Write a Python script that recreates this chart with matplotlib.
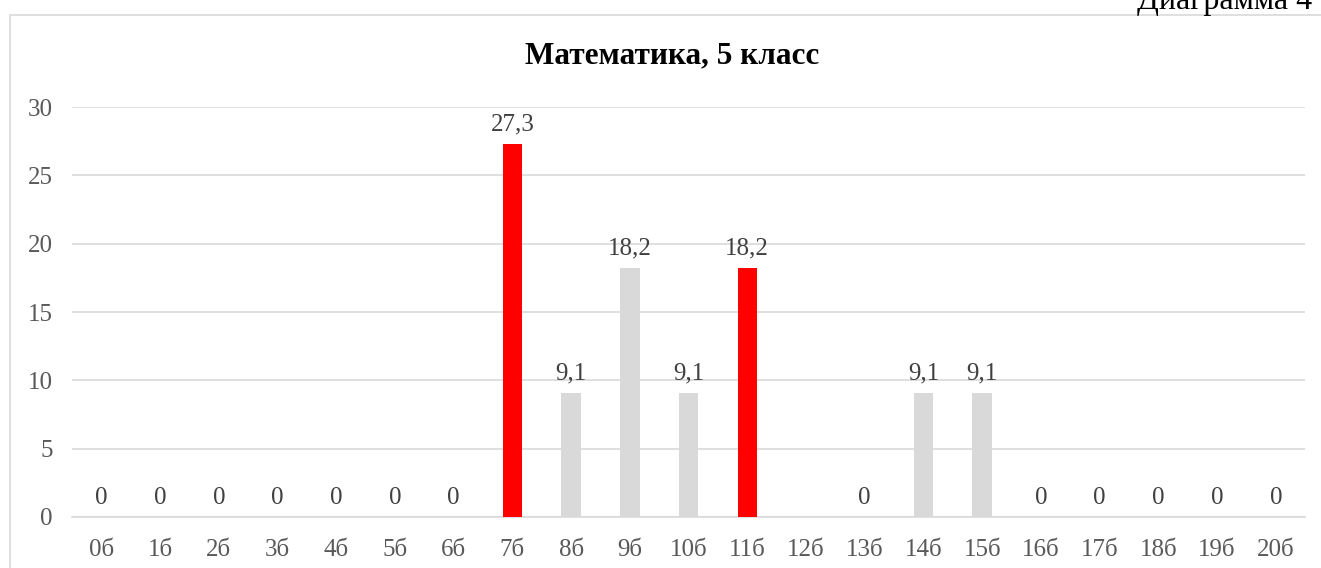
import numpy as np
import matplotlib.pyplot as plt
from matplotlib.patches import Rectangle

plt.rcParams['font.family'] = ['Liberation Serif', 'DejaVu Serif']

# данные
categories = ['0б', '1б', '2б', '3б', '4б', '5б', '6б', '7б', '8б', '9б', '10б',
              '11б', '12б', '13б', '14б', '15б', '16б', '17б', '18б', '19б', '20б']
values = [0, 0, 0, 0, 0, 0, 0, 27.3, 9.1, 18.2, 9.1,
          18.2, np.nan, 0, 9.1, 9.1, 0, 0, 0, 0, 0]
highlight = ['7б', '11б']

colors = ['#ff0000' if c in highlight else '#d9d9d9' for c in categories]

fig = plt.figure(figsize=(13.21, 5.68), dpi=100)
ax = fig.add_axes([0.0545, 0.0898, 0.9335, 0.7218])

x = np.arange(len(categories))
vals = np.nan_to_num(np.array(values, dtype=float))
ax.bar(x, vals, width=0.33, color=colors, zorder=3)

for xi, v in zip(x, values):
    if np.isnan(v):
        continue
    lbl = ('%.1f' % v).replace('.', ',') if v != 0 else '0'
    ax.annotate(lbl, (xi, v), xytext=(0, 6), textcoords='offset points',
                ha='center', va='bottom', fontsize=18, color='#404040')

ax.set_xlim(-0.5, len(categories) - 0.5)
ax.set_ylim(0, 30)
ax.set_yticks(range(0, 31, 5))
ax.set_xticks(x)
ax.set_xticklabels(categories)
ax.tick_params(axis='both', length=0, labelsize=18, labelcolor='#595959')
ax.tick_params(axis='y', pad=14)
ax.tick_params(axis='x', pad=16)
ax.grid(axis='y', color='#d9d9d9', linewidth=1.2, zorder=0)
for s in ['top', 'right', 'left']:
    ax.spines[s].set_visible(False)
ax.spines['bottom'].set_color('#d9d9d9')
ax.spines['bottom'].set_linewidth(1.2)

# заголовок по центру рамки
fig.text(672 / 1321, 1 - 63 / 568, 'Математика, 5 класс', ha='center',
         va='baseline', fontsize=22.5, fontweight='bold', color='black')

# рамка диаграммы
fig.patches.append(Rectangle((10 / 1321, -0.1), 1.2, 1.1 - 15 / 568,
                             transform=fig.transFigure, fill=False,
                             edgecolor='#d9d9d9', linewidth=1.2))
fig.text(1312 / 1321, 1 - 9 / 568, 'Диаграмма 4', ha='right', va='baseline',
         fontsize=23, color='black')

fig.savefig('out.png', dpi=100)
